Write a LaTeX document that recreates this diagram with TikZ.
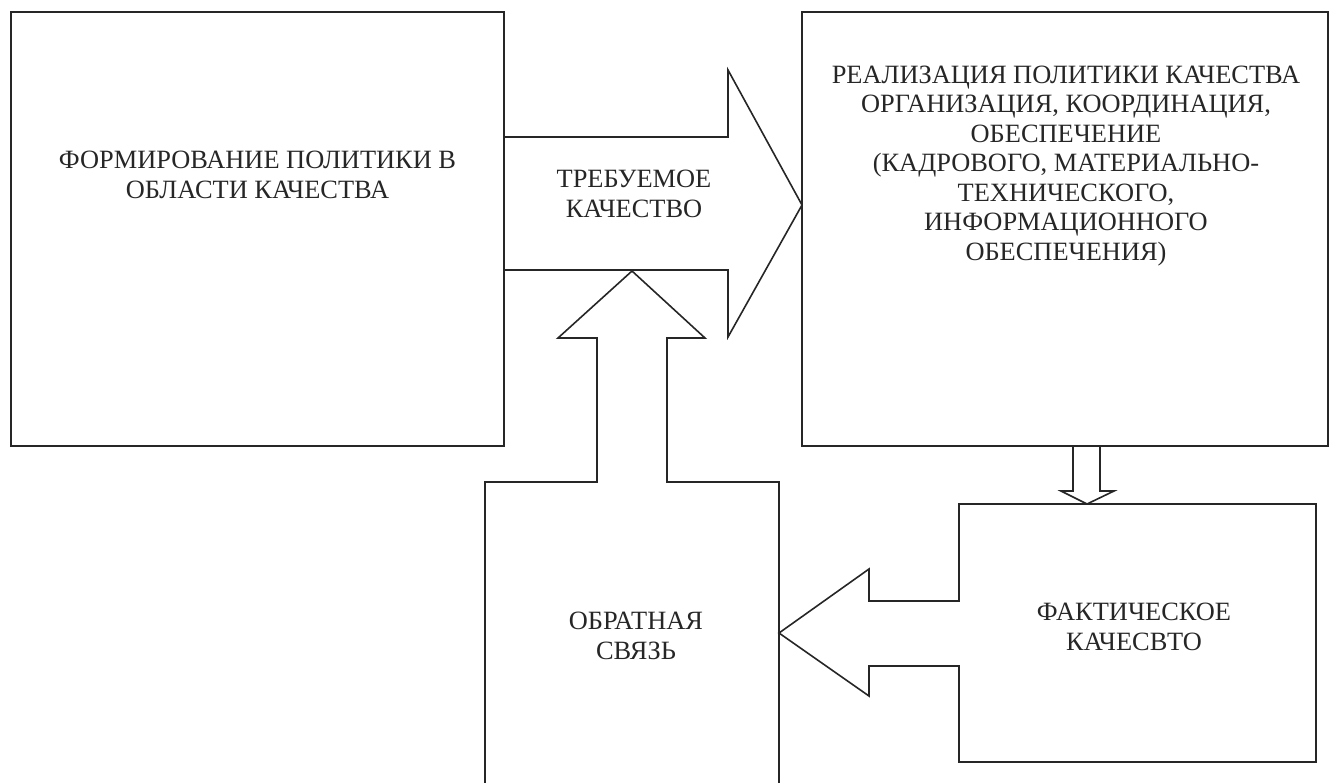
\documentclass[tikz,border=0pt]{standalone}
\usepackage{fontspec}
\setmainfont{Liberation Serif}
\usetikzlibrary{positioning}

\begin{document}
\begin{tikzpicture}[x=1pt,y=-1pt,line width=1.6pt,color=black!85,
	box/.style={draw,rectangle,inner sep=0pt},
	lbl/.style={align=center,inner sep=0pt,font=\fontsize{26.4}{29.5}\selectfont},
	blockarrow/.style={draw,line join=miter}]
\useasboundingbox (0,0) rectangle (1330,782);
\foreach \n/\x/\w/\h in{
	polit/{(257.5,229)}/493/434,
	real/{(1065,229)}/526/434,
	obr/{(632,636)}/294/308,
	fakt/{(1137.5,633)}/357/258
}
{
	\node[box,minimum width=\w pt,minimum height=\h pt] (\n) at \x {};
}
\node[lbl] (politTxt) at (257.5,175) {ФОРМИРОВАНИЕ ПОЛИТИКИ В\\ОБЛАСТИ КАЧЕСТВА};
\node[lbl] (realTxt) at (1066,166) {РЕАЛИЗАЦИЯ ПОЛИТИКИ КАЧЕСТВА\\ОРГАНИЗАЦИЯ, КООРДИНАЦИЯ,\\ОБЕСПЕЧЕНИЕ\\(КАДРОВОГО, МАТЕРИАЛЬНО-\\ТЕХНИЧЕСКОГО,\\ИНФОРМАЦИОННОГО\\ОБЕСПЕЧЕНИЯ)};
\node[lbl] (trebTxt) at (634,194) {ТРЕБУЕМОЕ\\КАЧЕСТВО};
\node[lbl] (obrTxt) at (636,636) {ОБРАТНАЯ\\СВЯЗЬ};
\node[lbl] (faktTxt) at (1134,627) {ФАКТИЧЕСКОЕ\\КАЧЕСВТО};
% block arrows
\draw[blockarrow] (504,137) -- (728,137) -- (728,70) -- (802,205) -- (728,337) -- (728,270) -- (504,270);
\fill[white] (598,479) rectangle (666,485);
\draw[blockarrow] (597,482) -- (597,338) -- (558,338) -- (632,271) -- (705,338) -- (667,338) -- (667,482);
\draw[blockarrow] (1073,446) -- (1073,491) -- (1061,491) -- (1087,504) -- (1114,491) -- (1100,491) -- (1100,446);
\fill[white] (956,602) rectangle (962,665);
\draw[blockarrow] (959,601) -- (869,601) -- (869,569) -- (779,633) -- (869,696) -- (869,666) -- (959,666);
\end{tikzpicture}
\end{document}
